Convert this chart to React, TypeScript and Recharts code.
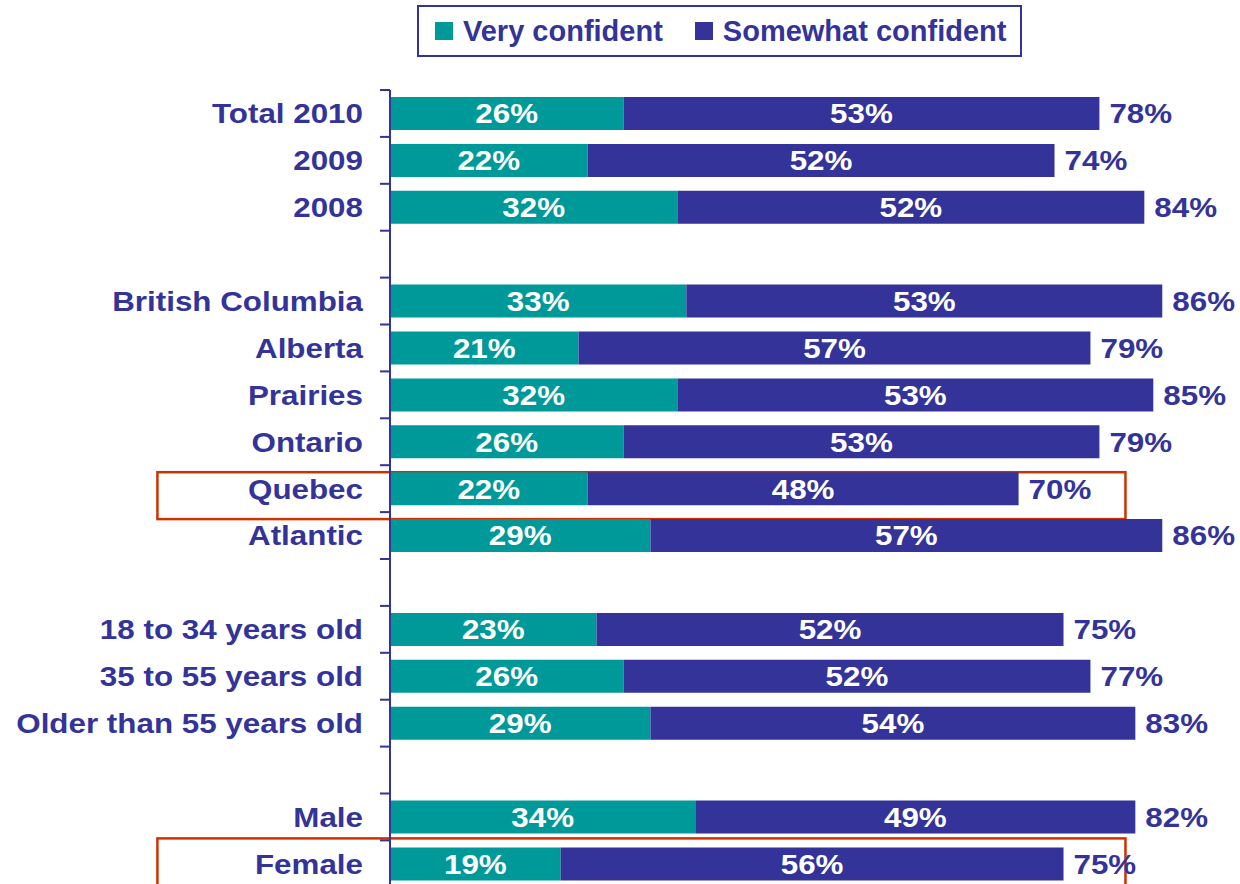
import React from 'react';
import { BarChart, Bar, XAxis, YAxis, LabelList, ReferenceArea } from 'recharts';

const categories = [
  'Total 2010', '2009', '2008', '',
  'British Columbia', 'Alberta', 'Prairies', 'Ontario', 'Quebec', 'Atlantic', '',
  '18 to 34 years old', '35 to 55 years old', 'Older than 55 years old', '',
  'Male', 'Female',
];
const veryConfident = [26, 22, 32, null, 33, 21, 32, 26, 22, 29, null, 23, 26, 29, null, 34, 19];
const somewhatConfident = [53, 52, 52, null, 53, 57, 53, 53, 48, 57, null, 52, 52, 54, null, 49, 56];
const totals = [78, 74, 84, null, 86, 79, 85, 79, 70, 86, null, 75, 77, 83, null, 82, 75];
const seriesNames = ['Very confident', 'Somewhat confident'];
const highlighted = ['Quebec', 'Female'];

const TEAL = '#009999';
const BLUE = '#333399';
const RED = '#cc3300';
const FONT = '"Liberation Sans", Arial, sans-serif';
const STRETCH = 1.12; // the original text is drawn a bit wide

const data = categories.map((name, i) => ({
  id: `r${i}`,
  name,
  very: veryConfident[i],
  somewhat: somewhatConfident[i],
  total: totals[i],
}));

// bold text, stretched horizontally around its anchor point
function WideText({ x, y, anchor, fill, children }: any) {
  return (
    <text
      transform={`translate(${x},${y}) scale(${STRETCH},1)`}
      x={0}
      y={0}
      textAnchor={anchor}
      dominantBaseline="central"
      fill={fill}
      fontSize={28}
      fontWeight="bold"
      fontFamily={FONT}
    >
      {children}
    </text>
  );
}

function CategoryTick(props: any) {
  const { x, y, payload, index, visibleTicksCount } = props;
  const half = payload && typeof payload.offset === 'number' ? payload.offset : 23.45;
  const row = data.find((d) => d.id === payload.value);
  const axisX = x + 27;
  return (
    <g>
      <line x1={axisX - 10} x2={axisX} y1={y - half} y2={y - half} stroke={BLUE} strokeWidth={2} />
      {index === visibleTicksCount - 1 && (
        <line x1={axisX - 10} x2={axisX} y1={y + half} y2={y + half} stroke={BLUE} strokeWidth={2} />
      )}
      <WideText x={x} y={y} anchor="end" fill={BLUE}>
        {row ? row.name : ''}
      </WideText>
    </g>
  );
}

const centerLabel = (p: any) => {
  if (p.value == null) return null;
  return (
    <WideText x={p.x + p.width / 2} y={p.y + p.height / 2} anchor="middle" fill="#fff">
      {`${p.value}%`}
    </WideText>
  );
};

const totalLabel = (p: any) => {
  if (p.value == null) return null;
  return (
    <WideText x={p.x + p.width + 10} y={p.y + p.height / 2} anchor="start" fill={BLUE}>
      {`${p.value}%`}
    </WideText>
  );
};

const boxShape = (dy: number) => (p: any) => (
  <rect x={p.x} y={p.y + dy} width={p.width} height={p.height} fill="none" stroke={RED} strokeWidth={2.5} />
);
const boxOffsets = [7, -2];

function LegendBox() {
  const colors = [TEAL, BLUE];
  return (
    <div
      style={{
        position: 'absolute',
        left: 417,
        top: 5,
        width: 601,
        height: 48,
        border: `2px solid ${BLUE}`,
        display: 'flex',
        alignItems: 'center',
        fontFamily: FONT,
        fontWeight: 'bold',
        fontSize: 29,
        color: BLUE,
        background: '#fff',
      }}
    >
      {seriesNames.map((n, i) => (
        <div key={n} style={{ display: 'flex', alignItems: 'center', marginLeft: i === 0 ? 16 : 32 }}>
          <span style={{ width: 18, height: 18, background: colors[i], display: 'inline-block', marginRight: 10 }} />
          <span>{n}</span>
        </div>
      ))}
    </div>
  );
}

export default function App() {
  return (
    <div style={{ position: 'absolute', left: 0, top: 0, width: 1240, height: 884, overflow: 'hidden', background: '#fff' }}>
      <BarChart
        width={1288}
        height={893}
        data={data}
        layout="vertical"
        margin={{ top: 90, right: 0, bottom: 5.7, left: 0 }}
      >
        <XAxis type="number" domain={[0, 100]} hide />
        <YAxis
          type="category"
          dataKey="id"
          width={390}
          interval={0}
          tickSize={10}
          tickMargin={17}
          tickLine={false}
          axisLine={{ stroke: BLUE, strokeWidth: 2 }}
          tick={<CategoryTick />}
        />
        <Bar dataKey="very" name={seriesNames[0]} stackId="a" fill={TEAL} barSize={33} isAnimationActive={false}>
          <LabelList dataKey="very" content={centerLabel} />
        </Bar>
        <Bar dataKey="somewhat" name={seriesNames[1]} stackId="a" fill={BLUE} barSize={33} isAnimationActive={false}>
          <LabelList dataKey="somewhat" content={centerLabel} />
          <LabelList dataKey="total" content={totalLabel} />
        </Bar>
        {highlighted.map((name, i) => {
          const row = data.find((d) => d.name === name);
          return (
            <ReferenceArea
              key={name}
              y1={row!.id}
              y2={row!.id}
              x1={-25.9}
              x2={81.9}
              ifOverflow="visible"
              shape={boxShape(boxOffsets[i])}
            />
          );
        })}
      </BarChart>
      <LegendBox />
    </div>
  );
}
